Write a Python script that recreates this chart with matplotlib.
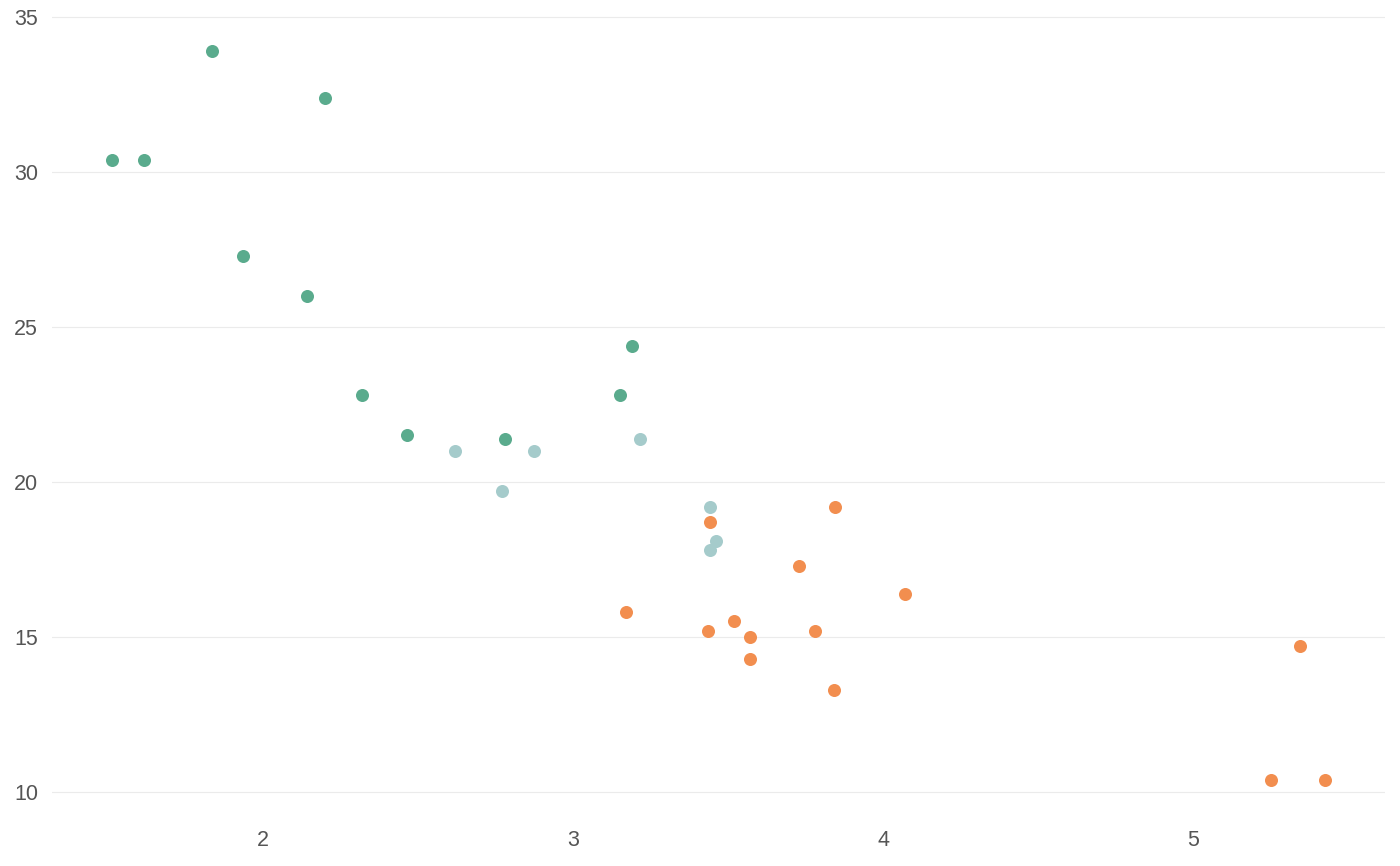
import matplotlib
matplotlib.use('Agg')
import matplotlib.pyplot as plt

# mtcars: weight (1000 lbs) vs mpg, grouped by cylinders
wt_4 = [2.320, 3.190, 3.150, 2.200, 1.615, 1.835, 2.465, 1.935, 2.140, 1.513, 2.780]
mpg_4 = [22.8, 24.4, 22.8, 32.4, 30.4, 33.9, 21.5, 27.3, 26.0, 30.4, 21.4]

wt_6 = [2.620, 2.875, 3.215, 3.460, 3.440, 3.440, 2.770]
mpg_6 = [21.0, 21.0, 21.4, 18.1, 19.2, 17.8, 19.7]

wt_8 = [3.440, 3.570, 4.070, 3.730, 3.780, 5.250, 5.424, 5.345, 3.520, 3.435, 3.840, 3.845, 3.170, 3.570]
mpg_8 = [18.7, 14.3, 16.4, 17.3, 15.2, 10.4, 10.4, 14.7, 15.5, 15.2, 13.3, 19.2, 15.8, 15.0]

y_ticks = [10, 15, 20, 25, 30, 35]
x_ticks = [2, 3, 4, 5]

plt.rcParams['font.family'] = ['Liberation Sans', 'DejaVu Sans']

fig = plt.figure(figsize=(14, 8.66), dpi=100)
ax = fig.add_axes([52 / 1400, 1 - 816 / 866, (1385 - 52) / 1400, (816 - 14.7) / 866])

ax.scatter(wt_4, mpg_4, s=88, color='#5aab8d', linewidths=0, zorder=3)
ax.scatter(wt_6, mpg_6, s=88, color='#a5cbcb', linewidths=0, zorder=3)
ax.scatter(wt_8, mpg_8, s=88, color='#f28e4f', linewidths=0, zorder=3)

ax.set_xlim(1.319, 5.619)
ax.set_ylim(9.225, 35.075)
ax.set_xticks(x_ticks)
ax.set_yticks(y_ticks)
ax.grid(axis='y', color='#ebebeb', linewidth=0.8)
ax.set_axisbelow(True)
for s in ax.spines.values():
    s.set_visible(False)
ax.tick_params(length=0, labelsize=15.5, labelcolor='#555555')
ax.tick_params(axis='x', pad=10)
ax.tick_params(axis='y', pad=10)

plt.savefig('out.png', dpi=100)
